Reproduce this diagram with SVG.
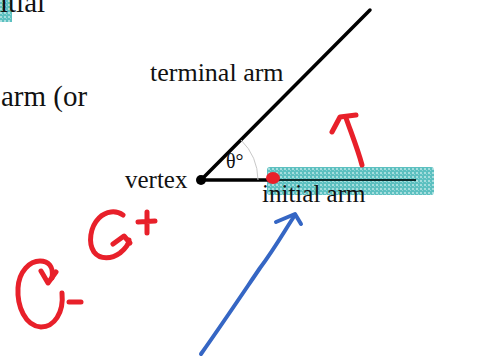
<svg xmlns="http://www.w3.org/2000/svg" width="483" height="358" viewBox="0 0 483 358">
<defs>
<pattern id="hl" width="4" height="4" patternUnits="userSpaceOnUse">
<rect width="4" height="4" fill="#5cc0c0"/>
<rect x="0" y="0" width="2" height="2" fill="#a6dede"/>
<rect x="2" y="2" width="1" height="1" fill="#8ed4d4"/>
</pattern>
</defs>
<style>
text{font-family:"Liberation Serif","Times New Roman",serif;fill:#111}
.big{font-size:29px}
.lbl{font-size:25px}
.red{fill:none;stroke:#e8202a;stroke-width:5;stroke-linecap:round;stroke-linejoin:round}
.blue{fill:none;stroke:#3566c4;stroke-width:4;stroke-linecap:round;stroke-linejoin:round}
</style>
<rect width="483" height="358" fill="#fff"/>
<g id="bg-text">
<rect x="0" y="0" width="12" height="22" fill="url(#hl)"/>
<text class="big" x="0" y="12">itial</text>
<text class="big" x="1" y="106">arm (or</text>
</g>
<g id="highlight">
<rect x="267" y="167" width="167" height="28" rx="3" fill="url(#hl)"/>
</g>
<g id="connectors">
<line x1="201" y1="180" x2="370" y2="10" stroke="#000" stroke-width="3.5" stroke-linecap="round"/>
<line x1="201" y1="180" x2="272" y2="180" stroke="#000" stroke-width="3.5"/>
<line x1="272" y1="180" x2="416" y2="180" stroke="#0c2a2a" stroke-width="2.2"/>
<path d="M258,180 A57,57 0 0 0 241,140" fill="none" stroke="#c8c8c8" stroke-width="1"/>
</g>
<g id="vertex">
<circle cx="201" cy="180" r="5" fill="#000"/>
<text class="lbl" x="125" y="188">vertex</text>
</g>
<g id="terminal">
<text class="lbl" x="150" y="81" style="font-size:26px">terminal arm</text>
</g>
<g id="initial">
<ellipse cx="273" cy="178" rx="7" ry="6" fill="#e8202a"/>
<text class="lbl" x="262" y="202">initial arm</text>
</g>
<g id="angle">
<text x="226" y="168" style="font-size:20px">θ°</text>
</g>
<g id="red-arrow">
<path class="red" d="M362,165 C358,150 352,135 346,118"/>
<path class="red" d="M332,132 L340,117 L356,115"/>
</g>
<g id="ccw">
<path class="red" d="M123,215 C116,210 106,211 99,218 C90,227 88,243 94,252 C100,260 112,259 120,253 C126,248 129,244 129,240"/>
<path class="red" d="M113,244 L124,236 L130,243"/>
<path class="red" d="M138,222 L155,221 M147,212 L147,233"/>
</g>
<g id="cw">
<path class="red" d="M62,293 C64,313 54,327 41,327 C25,326 17,306 18,288 C19,271 30,261 40,261 C48,261 54,266 52,278"/>
<path class="red" d="M41,271 L48,283 L56,272"/>
<path class="red" d="M69,302 L81,302"/>
</g>
<g id="blue-arrow">
<path class="blue" d="M201,354 C225,320 245,290 260,268 C275,248 285,230 295,215"/>
<path class="blue" d="M276,222 L295,214 L301,224"/>
</g>
</svg>
